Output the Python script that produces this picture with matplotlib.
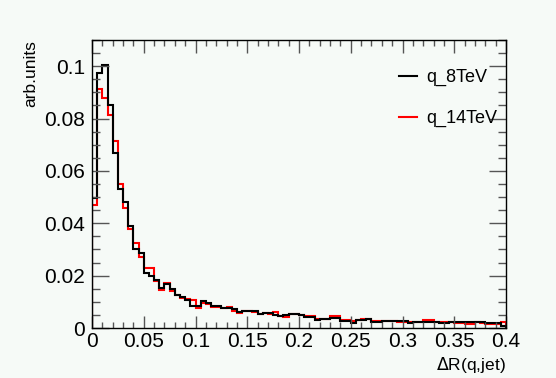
import numpy as np
import matplotlib
matplotlib.use("Agg")
import matplotlib.pyplot as plt
from matplotlib.ticker import MultipleLocator, FuncFormatter

# histogram range and binning (80 bins of 0.005)
x_min, x_max, n_bins = 0.0, 0.4, 80

q_8TeV = [
    0.0496, 0.0975, 0.1005, 0.0850, 0.0670, 0.0530, 0.0480, 0.0390, 0.0300, 0.0285,
    0.0210, 0.0198, 0.0183, 0.0151, 0.0168, 0.0148, 0.0126, 0.0118, 0.0107, 0.0084,
    0.0084, 0.0104, 0.0094, 0.0085, 0.0085, 0.0075, 0.0075, 0.0072, 0.0060, 0.0066,
    0.0066, 0.0066, 0.0052, 0.0056, 0.0056, 0.0050, 0.0046, 0.0048, 0.0055, 0.0055,
    0.0050, 0.0043, 0.0043, 0.0031, 0.0036, 0.0036, 0.0040, 0.0040, 0.0028, 0.0028,
    0.0020, 0.0030, 0.0030, 0.0033, 0.0024, 0.0024, 0.0028, 0.0028, 0.0028, 0.0025,
    0.0025, 0.0020, 0.0024, 0.0024, 0.0024, 0.0024, 0.0024, 0.0020, 0.0020, 0.0024,
    0.0024, 0.0024, 0.0022, 0.0022, 0.0022, 0.0022, 0.0018, 0.0018, 0.0018, 0.0006,
]

q_14TeV = [
    0.0470, 0.0912, 0.0877, 0.0815, 0.0715, 0.0550, 0.0460, 0.0380, 0.0325, 0.0270,
    0.0228, 0.0228, 0.0180, 0.0147, 0.0170, 0.0140, 0.0125, 0.0115, 0.0112, 0.0107,
    0.0078, 0.0095, 0.0090, 0.0080, 0.0082, 0.0078, 0.0080, 0.0066, 0.0058, 0.0064,
    0.0066, 0.0062, 0.0055, 0.0058, 0.0054, 0.0060, 0.0047, 0.0043, 0.0052, 0.0052,
    0.0048, 0.0045, 0.0045, 0.0033, 0.0036, 0.0036, 0.0044, 0.0044, 0.0030, 0.0030,
    0.0026, 0.0032, 0.0034, 0.0034, 0.0026, 0.0026, 0.0025, 0.0028, 0.0028, 0.0024,
    0.0022, 0.0024, 0.0022, 0.0024, 0.0030, 0.0030, 0.0024, 0.0022, 0.0022, 0.0024,
    0.0018, 0.0018, 0.0016, 0.0016, 0.0022, 0.0018, 0.0016, 0.0014, 0.0016, 0.0024,
]

labels = ["q_8TeV", "q_14TeV"]
colors = ["black", "red"]

plt.rcParams['font.family'] = ['Liberation Sans', 'DejaVu Sans']

bg = "#f6faf7"
fig = plt.figure(figsize=(5.56, 3.78), dpi=100, facecolor=bg)
ax = fig.add_axes([92/556, 50/378, 414/556, 288/378])
ax.set_facecolor(bg)

edges = np.linspace(x_min, x_max, n_bins + 1)
ax.stairs(q_14TeV, edges, color=colors[1], linewidth=1.5, baseline=0)
ax.stairs(q_8TeV, edges, color=colors[0], linewidth=1.5, baseline=0)

ax.set_xlim(x_min, x_max)
ax.set_ylim(0, 0.11)

ax.xaxis.set_major_locator(MultipleLocator(0.05))
ax.xaxis.set_minor_locator(MultipleLocator(0.01))
ax.yaxis.set_major_locator(MultipleLocator(0.02))
ax.yaxis.set_minor_locator(MultipleLocator(0.005))

fmt = FuncFormatter(lambda v, p: "0" if abs(v) < 1e-12 else f"{v:g}")
ax.xaxis.set_major_formatter(fmt)
ax.yaxis.set_major_formatter(fmt)

ax.tick_params(which='both', direction='in', top=True, right=True,
               labelsize=15, color='#555555')
ax.tick_params(axis='y', which='major', length=12, width=1, pad=5)
ax.tick_params(axis='y', which='minor', length=6, width=1)
ax.tick_params(axis='x', which='major', length=9, width=1, pad=3)
ax.tick_params(axis='x', which='minor', length=4.5, width=1)

for s in ax.spines.values():
    s.set_linewidth(1)
    s.set_color('black')

ax.set_xlabel(r"$\Delta$R(q,jet)", fontsize=12.5, loc='right', labelpad=3)
ax.set_ylabel("arb.units", fontsize=12.5, loc='top', labelpad=4)

# plain line handles for the legend, like ROOT "l" option
l8, = ax.plot([], [], color=colors[0], linewidth=1.5)
l14, = ax.plot([], [], color=colors[1], linewidth=1.5)
ax.legend([l8, l14], labels, loc='upper left', bbox_to_anchor=(0.72, 0.93),
          frameon=False, fontsize=13, handlelength=1.0, handletextpad=0.5,
          labelspacing=1.3, borderpad=0)

fig.savefig("out.png", dpi=100, facecolor=bg)
